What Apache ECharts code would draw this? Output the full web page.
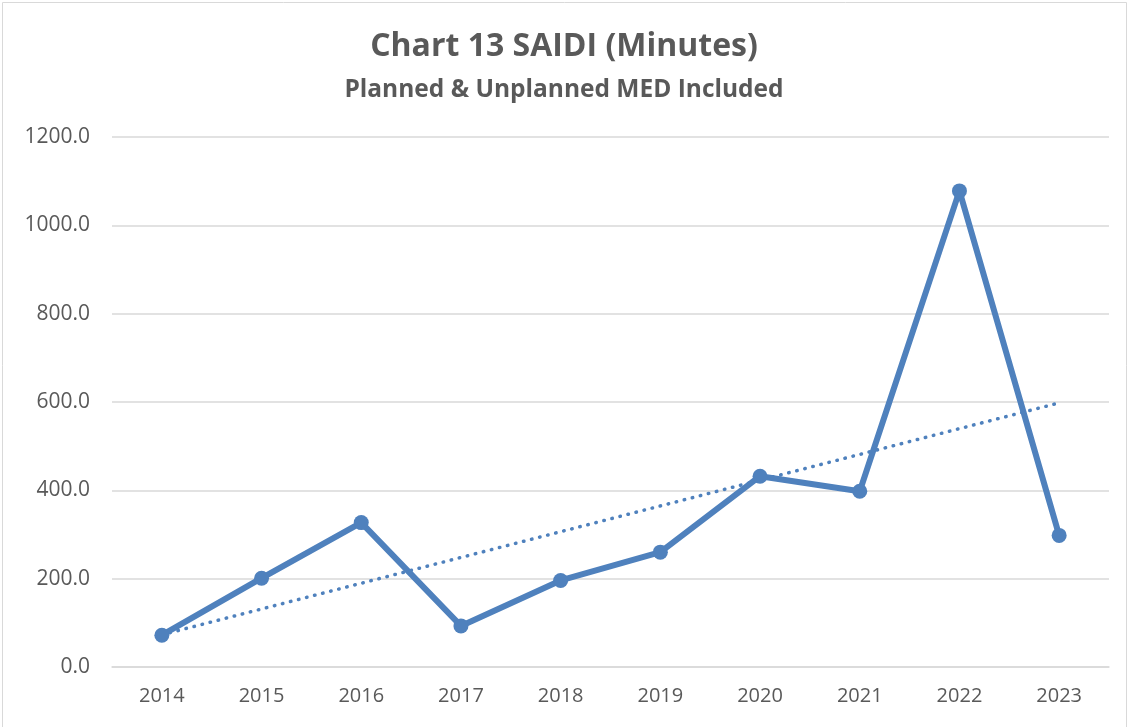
<!DOCTYPE html>
<html>
<head>
<meta charset="utf-8">
<script src="https://cdn.jsdelivr.net/npm/echarts@6/dist/echarts.min.js"></script>
<style>
  html, body { margin: 0; padding: 0; background: #fff; }
  #myChart { width: 1128px; height: 727px; }
</style>
</head>
<body>
<div id="myChart"></div>
<script>
// values
const years = ['2014', '2015', '2016', '2017', '2018', '2019', '2020', '2021', '2022', '2023'];
const saidi = [72, 201, 327, 93, 196, 260, 432, 398, 1078, 298];
// linear trend line, end points
const trend = [73, null, null, null, null, null, null, null, null, 598];
const yTicks = [0, 200, 400, 600, 800, 1000, 1200];

const blue = '#4f81bd';
const grey = '#595959';

const myChart = echarts.init(document.getElementById('myChart'));
myChart.setOption({
    animation: false,
    title: {
        text: 'Chart 13 SAIDI (Minutes)',
        subtext: 'Planned & Unplanned MED Included',
        left: 'center',
        top: 26,
        itemGap: 15,
        textStyle: { fontFamily: 'Open Sans', fontWeight: 'bold', fontSize: 32, color: grey },
        subtextStyle: { fontFamily: 'Open Sans', fontWeight: 'bold', fontSize: 24.5, color: grey }
    },
    graphic: [{
        type: 'rect',
        shape: { x: 2.5, y: 2.5, width: 1124, height: 740 },
        style: { fill: 'none', stroke: '#d9d9d9', lineWidth: 1 },
        silent: true
    }],
    grid: { left: 112, right: 19, top: 137, bottom: 60 },
    xAxis: {
        type: 'category',
        data: years,
        boundaryGap: true,
        axisTick: { show: false },
        axisLine: { show: true, lineStyle: { color: '#d9d9d9', width: 1.5 } },
        axisLabel: { color: grey, fontFamily: 'Open Sans', fontSize: 20, margin: 19 }
    },
    yAxis: {
        type: 'value',
        min: yTicks[0],
        max: yTicks[yTicks.length - 1],
        interval: yTicks[1] - yTicks[0],
        axisLine: { show: false },
        axisTick: { show: false },
        splitLine: { lineStyle: { color: '#d9d9d9', width: 1.5 } },
        axisLabel: {
            color: grey, fontFamily: 'Open Sans', fontSize: 21, margin: 22,
            formatter: v => v.toFixed(1)
        }
    },
    series: [
        {
            name: 'Trend',
            type: 'line',
            data: trend,
            connectNulls: true,
            symbol: 'none',
            lineStyle: { color: blue, width: 3.5, type: [0.5, 7.8], cap: 'round' },
            z: 1
        },
        {
            name: 'SAIDI',
            type: 'line',
            data: saidi,
            symbol: 'circle',
            symbolSize: 15,
            itemStyle: { color: blue },
            lineStyle: { color: blue, width: 6 },
            z: 2
        }
    ]
});
</script>
</body>
</html>
